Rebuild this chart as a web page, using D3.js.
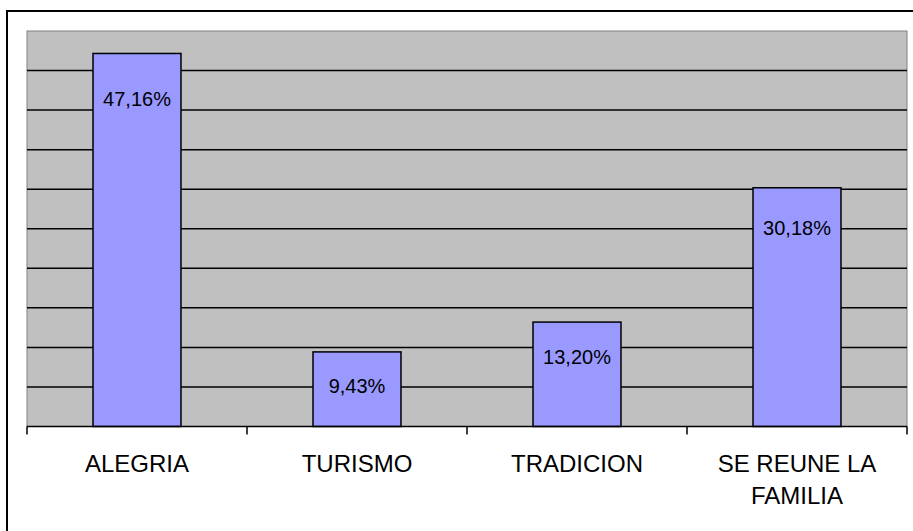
<!DOCTYPE html>
<html>
<head>
<meta charset="utf-8">
<script src="https://cdn.jsdelivr.net/npm/d3@7"></script>
<style>
  html, body { margin: 0; padding: 0; background: #fff; }
  svg { display: block; font-family: "Liberation Sans", Arial, sans-serif; }
</style>
</head>
<body>
<svg id="chart" width="913" height="531"></svg>
<script>
const categories = ['ALEGRIA', 'TURISMO', 'TRADICION', 'SE REUNE LA FAMILIA'];
const values = [47.16, 9.43, 13.20, 30.18];
const valueLabels = ['47,16%', '9,43%', '13,20%', '30,18%'];
const gridTicks = [0, 5, 10, 15, 20, 25, 30, 35, 40, 45, 50];

var svg = d3.select('#chart');
var margin = { top: 31, left: 27, right: 6, bottom: 104.5 };
var width = 913 - margin.left - margin.right;
var height = 531 - margin.top - margin.bottom;

// outer chart frame (runs off the right and bottom edges)
svg.append('rect')
   .attr('x', 7).attr('y', 11)
   .attr('width', 960).attr('height', 600)
   .attr('fill', 'none').attr('stroke', '#000').attr('stroke-width', 2);

var g = svg.append('g').attr('transform', `translate(${margin.left},${margin.top})`);

var x = d3.scaleBand().domain(categories).range([0, width]).paddingInner(0.6).paddingOuter(0.3);
var y = d3.scaleLinear().domain([0, 50]).range([height, 0]);

// plot area
g.append('rect')
 .attr('width', width).attr('height', height)
 .attr('fill', '#c0c0c0').attr('stroke', '#808080').attr('stroke-width', 1);

// gridlines
g.selectAll('.grid').data(gridTicks.slice(1, -1)).enter().append('line')
 .attr('x1', 0).attr('x2', width)
 .attr('y1', d => y(d)).attr('y2', d => y(d))
 .attr('stroke', '#000').attr('stroke-width', 1.5);

// bars
g.selectAll('.bar').data(values).enter().append('rect')
 .attr('x', (d, i) => x(categories[i]))
 .attr('y', d => y(d))
 .attr('width', x.bandwidth())
 .attr('height', d => height - y(d))
 .attr('fill', '#9999ff').attr('stroke', '#000').attr('stroke-width', 1.5);

// value labels
g.selectAll('.lbl').data(values).enter().append('text')
 .attr('x', (d, i) => x(categories[i]) + x.bandwidth() / 2)
 .attr('y', d => y(d) + 38 + d * 0.3)
 .attr('text-anchor', 'middle')
 .attr('font-size', 20)
 .attr('fill', '#000')
 .text((d, i) => valueLabels[i]);

// x axis with ticks between categories
var step = x.step();
var bounds = categories.map(c => x(c) - (step - x.bandwidth()) / 2).concat([width]);
g.append('line')
 .attr('x1', 0).attr('x2', width).attr('y1', height).attr('y2', height)
 .attr('stroke', '#000').attr('stroke-width', 1.5);
g.selectAll('.tick').data(bounds).enter().append('line')
 .attr('x1', d => d).attr('x2', d => d)
 .attr('y1', height).attr('y2', height + 8)
 .attr('stroke', '#000').attr('stroke-width', 1.5);

// category labels (wrapped)
var wrapped = { 'SE REUNE LA FAMILIA': ['SE REUNE LA', 'FAMILIA'] };
categories.forEach(function(c) {
  var lines = wrapped[c] || [c];
  var t = g.append('text')
           .attr('text-anchor', 'middle')
           .attr('font-size', 24)
           .attr('fill', '#000');
  lines.forEach(function(line, idx) {
    t.append('tspan')
     .attr('x', x(c) + x.bandwidth() / 2)
     .attr('y', height + 45 + idx * 32)
     .text(line);
  });
});
</script>
</body>
</html>
